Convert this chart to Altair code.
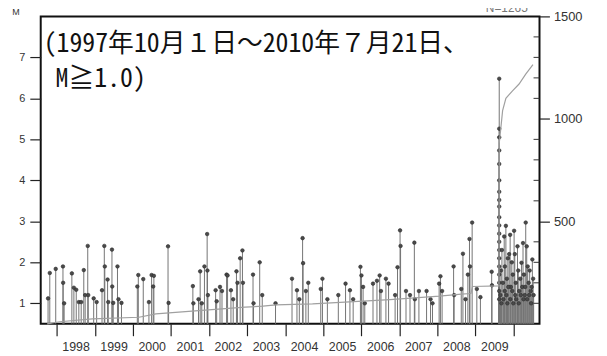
import altair as alt
import pandas as pd

# ---- data ----
event_year = [
    1997.773, 1997.818, 1997.974, 1998.164, 1998.169, 1998.195, 1998.398, 1998.451, 1998.513,
    1998.581, 1998.643, 1998.711, 1998.747, 1998.815, 1998.828, 1998.971, 1999.049, 1999.190,
    1999.250, 1999.263, 1999.336, 1999.354, 1999.451, 1999.458, 1999.484, 1999.596, 1999.622,
    1999.701, 2000.117, 2000.143, 2000.273, 2000.422, 2000.492, 2000.534, 2000.552, 2000.924,
    2000.938, 2001.576, 2001.589, 2001.724, 2001.768, 2001.810, 2001.880, 2001.951, 2001.958,
    2001.971, 2002.174, 2002.201, 2002.289, 2002.341, 2002.461, 2002.487, 2002.576, 2002.635,
    2002.721, 2002.747, 2002.818, 2002.878, 2002.891, 2003.156, 2003.169, 2003.331, 2003.398,
    2003.747, 2004.180, 2004.310, 2004.372, 2004.458, 2004.471, 2004.544, 2004.607, 2004.935,
    2004.979, 2005.109, 2005.396, 2005.586, 2005.701, 2005.786, 2005.977, 2006.003, 2006.047,
    2006.091, 2006.307, 2006.411, 2006.482, 2006.516, 2006.646, 2006.716, 2006.888, 2006.951,
    2007.018, 2007.031, 2007.174, 2007.279, 2007.393, 2007.406, 2007.513, 2007.714, 2007.818,
    2007.870, 2008.044, 2008.078, 2008.122, 2008.424, 2008.438, 2008.625, 2008.669, 2008.737,
    2008.799, 2008.841, 2008.854, 2008.911, 2009.034, 2009.128, 2009.424, 2009.432,
    # 2009-08-11 main shock and same-day aftershocks
    2009.622, 2009.622, 2009.622, 2009.622, 2009.622, 2009.622, 2009.622, 2009.622, 2009.622,
    2009.622, 2009.622, 2009.622, 2009.622, 2009.622, 2009.622, 2009.622, 2009.622, 2009.622,
    2009.622, 2009.622,
    # aftershock sequence
    2009.667, 2009.693, 2009.719, 2009.753, 2009.771, 2009.797, 2009.823, 2009.849, 2009.883,
    2009.909, 2009.927, 2009.953, 2009.979, 2010.013, 2010.031, 2010.057, 2010.102, 2010.122,
    2010.148, 2010.174, 2010.206, 2010.227, 2010.247, 2010.271, 2010.292, 2010.318, 2010.344,
    2010.370, 2010.396, 2010.422, 2010.448, 2010.492, 2010.513, 2010.526,
    2009.654, 2009.680, 2009.732, 2009.766, 2009.810, 2009.836, 2009.862, 2009.914, 2009.966,
    2009.992, 2010.044, 2010.070, 2010.135, 2010.187, 2010.260, 2010.305, 2010.357, 2010.409,
    2010.461, 2010.474,
]
event_mag = [
    1.12, 1.74, 1.84, 1.90, 1.50, 1.00, 1.73, 1.38, 1.33,
    1.03, 1.03, 1.81, 1.20, 2.40, 1.20, 1.12, 1.03, 1.32,
    2.40, 1.90, 1.58, 1.03, 2.31, 1.41, 1.01, 1.90, 1.10,
    1.01, 1.41, 1.69, 1.59, 1.03, 1.69, 1.41, 1.67, 2.39,
    1.01, 1.42, 1.00, 1.10, 1.78, 1.00, 1.90, 2.69, 1.80,
    1.20, 1.32, 1.05, 1.40, 1.30, 1.70, 1.68, 1.32, 1.10,
    1.78, 1.50, 2.10, 2.29, 1.50, 1.70, 1.00, 2.00, 1.20,
    1.00, 1.60, 1.32, 1.10, 2.59, 1.98, 1.30, 1.50, 1.35,
    1.60, 1.10, 1.20, 1.48, 1.32, 1.10, 1.89, 1.68, 1.40,
    1.00, 1.48, 1.55, 1.68, 1.30, 1.60, 1.48, 1.20, 1.88,
    2.78, 2.40, 1.30, 1.20, 2.48, 1.10, 1.30, 1.30, 1.10,
    1.00, 1.48, 1.66, 1.30, 1.90, 1.20, 1.35, 2.21, 1.10,
    1.70, 2.57, 1.90, 2.97, 1.35, 1.15, 1.77, 1.44,
    6.48, 5.26, 5.05, 4.73, 4.40, 4.00, 3.72, 3.52, 3.36,
    3.10, 2.90, 2.70, 2.50, 2.30, 2.10, 1.90, 1.70, 1.50,
    1.30, 1.10,
    1.80, 2.30, 1.50, 2.63, 1.90, 2.89, 1.60, 2.10, 2.20,
    2.67, 1.40, 2.00, 1.70, 2.77, 2.20, 1.50, 2.39, 1.80,
    1.30, 1.60, 1.99, 1.40, 2.47, 1.70, 1.20, 2.97, 2.39,
    1.90, 1.50, 1.80, 1.30, 2.07, 1.60, 1.20,
    1.20, 1.00, 1.10, 1.30, 1.20, 1.00, 1.40, 1.10, 1.30,
    1.00, 1.20, 1.10, 1.00, 1.20, 1.10, 1.40, 1.10, 1.20,
    1.00, 1.40,
]

cum_year = [1997.75, 1998.078, 1998.938, 2000.161, 2000.604, 2001.724, 2002.948, 2003.417,
            2003.755, 2004.719, 2005.448, 2006.750, 2008.052, 2008.625, 2008.880, 2008.920,
            2009.615, 2009.622, 2009.667, 2009.711, 2009.797, 2009.971, 2010.143, 2010.318,
            2010.508]
cum_count = [0, 10, 24, 32, 48, 64, 81, 86,
             92, 97, 105, 118, 135, 145, 148, 182,
             185, 880, 960, 1040, 1100, 1137, 1170, 1218,
             1265]

minor_counts = [100, 200, 300, 400, 600, 700, 800, 900, 1100, 1200, 1300, 1400]

year_ticks = list(range(1998, 2011))
mag_ticks = [1, 2, 3, 4, 5, 6, 7]
count_ticks = [500, 1000, 1500]

title_line1 = "(1997年10月１日～2010年７月21日、"
title_line2 = "M≧1.0)"
n_label = "N=1265"

W, H = 503, 310
FONT = "Liberation Sans"
JP = "Noto Sans Mono CJK JP, Noto Sans CJK JP"

events = pd.DataFrame({"year": event_year, "M": event_mag, "base": 0.5})
cum = pd.DataFrame({"year": cum_year, "count": cum_count})
minor = pd.DataFrame({"count": minor_counts})

xscale = alt.Scale(domain=[1997.58, 2010.68], nice=False, zero=False)
xaxis = alt.Axis(values=year_ticks, labelExpr="datum.value < 2010 ? '' + datum.value : ''",
                 labelOffset=19, tickSize=12, labelPadding=5, labelFont=FONT, labelFontSize=12.5,
                 labelColor="#333333", tickColor="#222222", tickWidth=1.2, domain=False,
                 grid=False, title=None, labelFlush=False, labelOverlap=False)
mscale = alt.Scale(domain=[0.5, 8.0], nice=False, zero=False)
maxis = alt.Axis(values=mag_ticks, tickSize=11, labelPadding=5, labelFont=FONT, labelFontSize=11,
                 labelColor="#333333", tickColor="#222222", tickWidth=1.2, domain=False,
                 grid=False, title=None, format="d")
cscale = alt.Scale(domain=[0, 1500], nice=False, zero=False)
caxis = alt.Axis(orient="right", values=count_ticks, tickSize=10, labelPadding=4, labelFont=FONT,
                 labelFontSize=13, labelColor="#333333", tickColor="#222222", tickWidth=1.2,
                 domain=False, grid=False, title=None, format="d")

stems = alt.Chart(events).mark_rule(color="#737373", strokeWidth=1).encode(
    x=alt.X("year:Q", scale=xscale, axis=xaxis),
    y=alt.Y("M:Q", scale=mscale, axis=maxis),
    y2="base:Q",
)
dots = alt.Chart(events).mark_point(shape="circle", filled=True, size=13, color="#4a4a4a",
                                    stroke="#2a2a2a", strokeWidth=0.6, opacity=1).encode(
    x=alt.X("year:Q", scale=xscale),
    y=alt.Y("M:Q", scale=mscale),
)
left = alt.layer(stems, dots)

line = alt.Chart(cum).mark_line(color="#a0a0a0", strokeWidth=1.2).encode(
    x=alt.X("year:Q", scale=xscale),
    y=alt.Y("count:Q", scale=cscale, axis=caxis),
)
mticks = alt.Chart(minor).mark_rule(color="#333333", strokeWidth=1).encode(
    y=alt.Y("count:Q", scale=cscale),
    x=alt.value(W - 6),
    x2=alt.value(W),
)
right = alt.layer(line, mticks)

one = pd.DataFrame({"a": [0]})
t1 = alt.Chart(one).mark_text(text=title_line1, font=JP, fontSize=26, align="left",
                              baseline="alphabetic", color="#111111").encode(
    x=alt.value(3), y=alt.value(36))
t2 = alt.Chart(one).mark_text(text=title_line2, font=JP, fontSize=26, align="left",
                              baseline="alphabetic", color="#111111").encode(
    x=alt.value(15), y=alt.value(71))
tm = alt.Chart(one).mark_text(text="M", font=FONT, fontSize=9, align="center",
                              baseline="alphabetic", color="#333333").encode(
    x=alt.value(-25), y=alt.value(-1))
tn = alt.Chart(one).mark_text(text=n_label, font=FONT, fontSize=12, align="center",
                              baseline="alphabetic", color="#777777").encode(
    x=alt.value(470), y=alt.value(-4))

chart = alt.layer(left, right, t1, t2, tm, tn).resolve_scale(y="independent").properties(
    width=W, height=H,
    autosize="none",
    padding={"left": 33, "top": 7, "right": 60, "bottom": 31},
    background="white",
).configure_view(stroke="#111111", strokeWidth=2)

chart.save("out.html", embed_options={"renderer": "svg", "actions": False})
